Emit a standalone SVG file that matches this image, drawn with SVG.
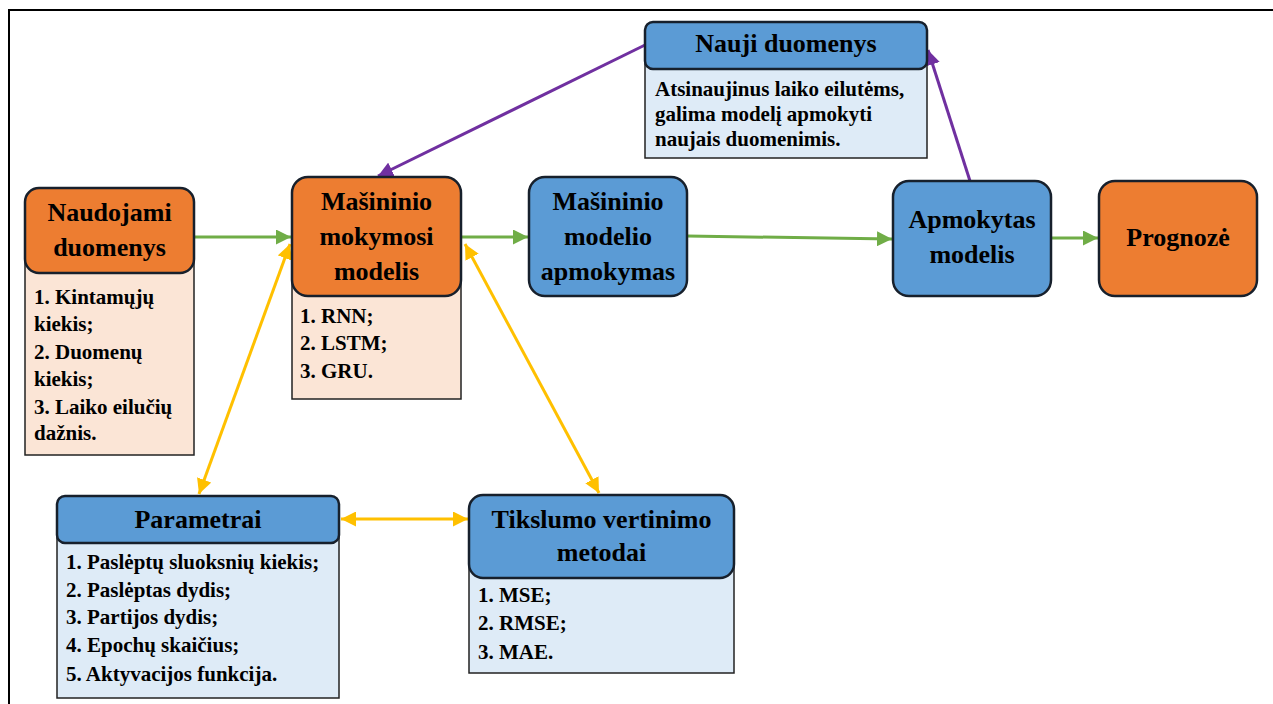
<svg xmlns="http://www.w3.org/2000/svg" width="1273" height="704" viewBox="0 0 1273 704">
<style>
text{font-family:"Liberation Serif","Times New Roman",serif;font-weight:bold;fill:#000}
.h{font-size:26px;text-anchor:middle}
.b{font-size:21px}
.ho{fill:#ED7D31;stroke:#17202C;stroke-width:2.5}
.hb{fill:#5B9BD5;stroke:#17202C;stroke-width:2.5}
.bo{fill:#FBE5D6;stroke:#222;stroke-width:1.5}
.bb{fill:#DEEBF7;stroke:#222;stroke-width:1.5}
.g{stroke:#70AD47;stroke-width:3;fill:none;marker-end:url(#ag)}
.p{stroke:#7030A0;stroke-width:3;fill:none;marker-end:url(#ap)}
.y{stroke:#FFC000;stroke-width:3;fill:none;marker-end:url(#ay);marker-start:url(#ay)}
</style>
<defs>
<marker id="ag" viewBox="0 0 10 10" refX="10" refY="5" markerWidth="5" markerHeight="5" orient="auto-start-reverse"><path d="M0,0L10,5L0,10z" fill="#70AD47"/></marker>
<marker id="ap" viewBox="0 0 10 10" refX="10" refY="5" markerWidth="5" markerHeight="5" orient="auto-start-reverse"><path d="M0,0L10,5L0,10z" fill="#7030A0"/></marker>
<marker id="ay" viewBox="0 0 10 10" refX="10" refY="5" markerWidth="5" markerHeight="5" orient="auto-start-reverse"><path d="M0,0L10,5L0,10z" fill="#FFC000"/></marker>
</defs>
<rect x="0" y="0" width="1273" height="704" fill="#fff"/>
<rect id="frame" x="9" y="10" width="1300" height="720" fill="none" stroke="#000" stroke-width="2"/>

<g id="connectors">
<line class="g" x1="194" y1="237" x2="291" y2="237"/>
<line class="g" x1="461" y1="237" x2="528" y2="237"/>
<line class="g" x1="687" y1="236" x2="892" y2="239"/>
<line class="g" x1="1051" y1="238" x2="1098" y2="238"/>
<line class="p" x1="645" y1="45" x2="378" y2="176"/>
<line class="p" x1="970" y1="181" x2="928" y2="50"/>
<line class="y" x1="199" y1="494" x2="290" y2="244"/>
<line class="y" x1="599" y1="493" x2="465" y2="244"/>
<line class="y" x1="341" y1="519" x2="468" y2="519"/>
</g>

<g id="naudojami">
<rect class="bo" x="25" y="260" width="169" height="195"/>
<rect class="ho" x="25" y="188" width="169" height="85" rx="14"/>
<text class="h" x="109.5" y="221">Naudojami</text>
<text class="h" x="109.5" y="256">duomenys</text>
<text class="b" x="34" y="304">1. Kintamųjų</text>
<text class="b" x="34" y="331">kiekis;</text>
<text class="b" x="34" y="359">2. Duomenų</text>
<text class="b" x="34" y="386">kiekis;</text>
<text class="b" x="34" y="414">3. Laiko eilučių</text>
<text class="b" x="34" y="440">dažnis.</text>
</g>

<g id="mokymosi">
<rect class="bo" x="292" y="280" width="169" height="119"/>
<rect class="ho" x="292" y="177" width="169" height="119" rx="16"/>
<text class="h" x="376.5" y="210">Mašininio</text>
<text class="h" x="376.5" y="245">mokymosi</text>
<text class="h" x="376.5" y="280">modelis</text>
<text class="b" x="300" y="323">1. RNN;</text>
<text class="b" x="300" y="350">2. LSTM;</text>
<text class="b" x="300" y="378">3. GRU.</text>
</g>

<g id="apmokymas">
<rect class="hb" x="529" y="177" width="158" height="119" rx="16"/>
<text class="h" x="608" y="210">Mašininio</text>
<text class="h" x="608" y="245">modelio</text>
<text class="h" x="608" y="280">apmokymas</text>
</g>

<g id="apmokytas">
<rect class="hb" x="893" y="181" width="158" height="115" rx="16"/>
<text class="h" x="972" y="228">Apmokytas</text>
<text class="h" x="972" y="263">modelis</text>
</g>

<g id="prognoze">
<rect class="ho" x="1099" y="181" width="158" height="115" rx="16"/>
<text class="h" x="1178" y="246">Prognozė</text>
</g>

<g id="nauji">
<rect class="bb" x="645" y="60" width="282" height="98"/>
<rect class="hb" x="645" y="22" width="282" height="47" rx="8"/>
<text class="h" x="786" y="52">Nauji duomenys</text>
<text class="b" x="655" y="96">Atsinaujinus laiko eilutėms,</text>
<text class="b" x="655" y="121">galima modelį apmokyti</text>
<text class="b" x="655" y="146">naujais duomenimis.</text>
</g>

<g id="parametrai">
<rect class="bb" x="57" y="530" width="282" height="168"/>
<rect class="hb" x="57" y="496" width="282" height="47" rx="8"/>
<text class="h" x="198" y="528">Parametrai</text>
<text class="b" x="66" y="569">1. Paslėptų sluoksnių kiekis;</text>
<text class="b" x="66" y="597">2. Paslėptas dydis;</text>
<text class="b" x="66" y="624">3. Partijos dydis;</text>
<text class="b" x="66" y="652">4. Epochų skaičius;</text>
<text class="b" x="66" y="681">5. Aktyvacijos funkcija.</text>
</g>

<g id="tikslumo">
<rect class="bb" x="469" y="560" width="265" height="113"/>
<rect class="hb" x="469" y="495" width="265" height="83" rx="14"/>
<text class="h" x="601.5" y="528">Tikslumo vertinimo</text>
<text class="h" x="601.5" y="561">metodai</text>
<text class="b" x="478" y="602">1. MSE;</text>
<text class="b" x="478" y="630">2. RMSE;</text>
<text class="b" x="478" y="659">3. MAE.</text>
</g>
</svg>
